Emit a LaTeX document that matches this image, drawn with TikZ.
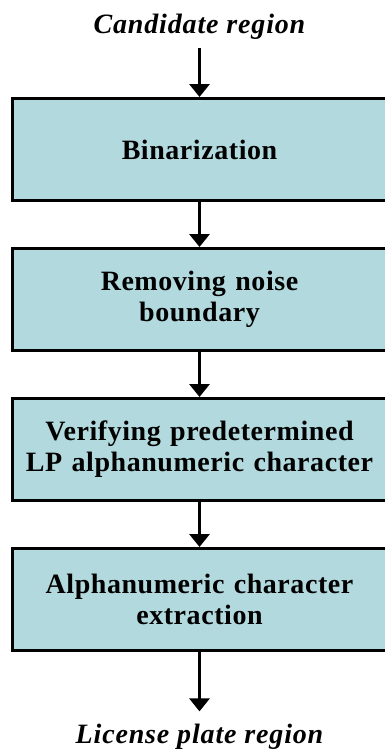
\documentclass[tikz,border=0pt]{standalone}
\usepackage{fontspec}
\usepackage{xcolor}
\usepackage{tikz}
\usetikzlibrary{arrows.meta, positioning}
\newfontfamily\flowfont{Liberation Serif}[LetterSpace=2]
\newfontfamily\termfont{Liberation Serif}[LetterSpace=3]
\definecolor{stagefill}{RGB}{178,218,222}
\tikzset{
  stage/.style={rectangle, draw=black, line width=3pt, fill=stagefill,
                minimum width=374pt, minimum height=102pt,
                text width=365pt, align=center,
                font=\flowfont\bfseries\fontsize{28}{31}\selectfont},
  term/.style={inner sep=3pt, anchor=base,
               font=\termfont\bfseries\itshape\fontsize{28}{31}\selectfont},
  arr/.style={-{Triangle[width=20pt,length=13pt]}, line width=3.5pt},
}

\begin{document}
\begin{tikzpicture}[x=1pt, y=1pt, node distance=45pt]
  \useasboundingbox[fill=white] (0,0) rectangle (385,-755);

  \node[stage] (bin) at (199.5,-149.5) {Binarization};
  \node[stage, below=of bin]    (noise)   {Removing noise\\boundary};
  \node[stage, below=of noise]  (verify)  {Verifying predetermined\\LP alphanumeric character};
  \node[stage, below=of verify] (extract) {Alphanumeric character\\extraction};

  \node[term] (cand) at (199.5,-33)  {Candidate region};
  \node[term] (lp)   at (199.5,-743) {License plate region};

  \draw[arr, shorten <=6pt] (cand) -- (bin);
  \draw[arr] (bin)    -- (noise);
  \draw[arr] (noise)  -- (verify);
  \draw[arr] (verify) -- (extract);
  \draw[arr, shorten >=9pt] (extract) -- (lp);
\end{tikzpicture}
\end{document}
